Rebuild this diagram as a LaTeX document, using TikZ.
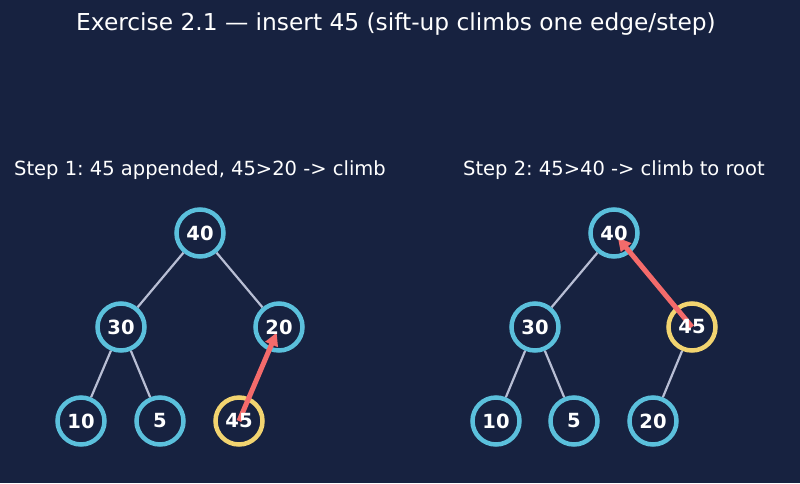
\documentclass[tikz,border=0pt]{standalone}
\usepackage{fontspec}
\setmainfont{DejaVu Sans}
\usetikzlibrary{arrows.meta}
\frenchspacing
\definecolor{bg}{HTML}{172240}
\definecolor{cy}{HTML}{5BC0DC}
\definecolor{yl}{HTML}{F2D470}
\definecolor{rd}{HTML}{F46B6B}
\definecolor{ed}{HTML}{B8BED4}
\tikzset{
  hn/.style={circle, draw=cy, line width=4.5pt, fill=bg, minimum size=47pt, inner sep=0pt},
  hy/.style={hn, draw=yl},
  lbl/.style={text=white, font=\fontsize{19.5}{21}\selectfont\bfseries, inner sep=0pt},
  edge/.style={draw=ed, line width=2.2pt},
  climb/.style={draw=rd, line width=5pt, -{Triangle[length=13pt,width=13pt]}, shorten >=6pt},
  sub/.style={text=white, font=\fontsize{19.5}{22}\selectfont, anchor=west, inner sep=0pt},
}
\begin{document}
\begin{tikzpicture}[x=1pt,y=-1pt]
\fill[bg] (0,0) rectangle (800,483);
\useasboundingbox (0,0) rectangle (800,483);
\node[text=white, font=\fontsize{23.3}{26}\selectfont, inner sep=0pt] (title) at (396,24) {Exercise 2.1 — insert 45 (sift-up climbs one edge/step)};
\node[sub] (s1) at (14,170) {Step 1: 45 appended, 45>20 -> climb};
\node[sub] (s2) at (463,170) {Step 2: 45>40 -> climb to root};
% left tree
\node[hn] (a40) at (200,233) {};
\node[hn] (a30) at (121,327) {};
\node[hn] (a20) at (279,327) {};
\node[hn] (a10) at (81,421) {};
\node[hn] (a5) at (160,421) {};
\node[hy] (a45) at (239,421) {};
% right tree
\node[hn] (b40) at (614,233) {};
\node[hn] (b30) at (535,327) {};
\node[hy] (b45) at (692,327) {};
\node[hn] (b10) at (496,421) {};
\node[hn] (b5) at (574,421) {};
\node[hn] (b20) at (653,421) {};
% edges
\path[edge] (a40) -- (a30);
\path[edge] (a40) -- (a20);
\path[edge] (a30) -- (a10);
\path[edge] (a30) -- (a5);
\path[edge] (b40) -- (b30);
\path[edge] (b30) -- (b10);
\path[edge] (b30) -- (b5);
\path[edge] (b45) -- (b20);
% arrows
\draw[climb] (a45.center) -- (a20.center);
\draw[climb] (b45.center) -- (b40.center);
% labels
\foreach \n/\t in {a40/40,a30/30,a20/20,a10/10,a5/5,a45/45,b40/40,b30/30,b45/45,b10/10,b5/5,b20/20}
  \node[lbl] (l\n) at (\n) {\t};
\end{tikzpicture}
\end{document}
